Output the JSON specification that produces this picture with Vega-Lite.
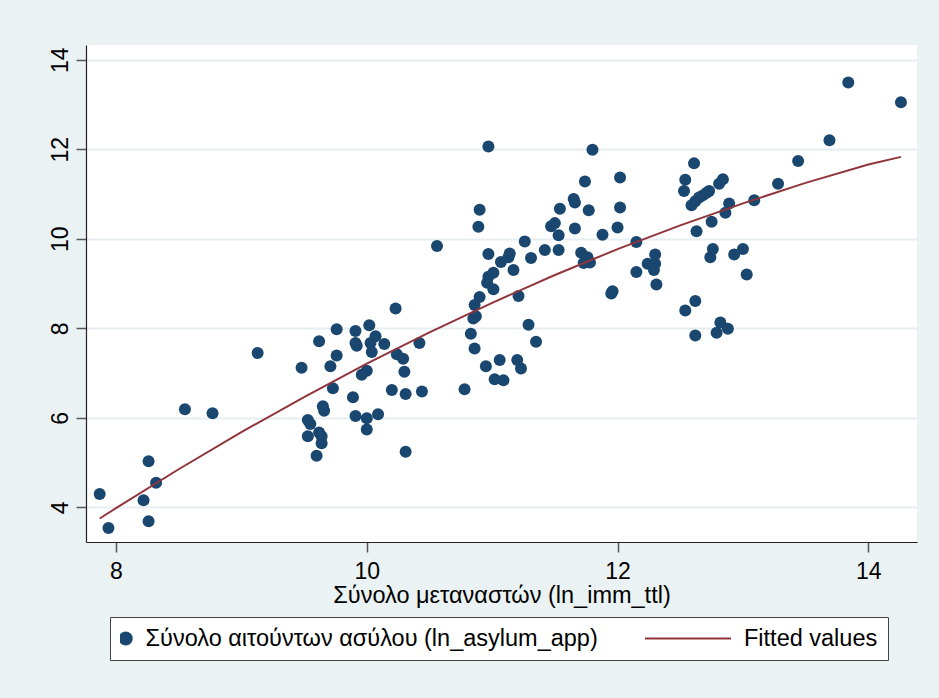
{
  "$schema": "https://vega.github.io/schema/vega-lite/v6.json",
  "width": 831,
  "height": 497,
  "autosize": {"type": "none"},
  "padding": {"left": 86, "top": 45, "right": 22, "bottom": 156},
  "background": "#eaf2f3",
  "config": {
    "view": {"stroke": null, "fill": "white"},
    "font": "Liberation Sans",
    "legend": {
      "orient": "none",
      "legendX": 24,
      "legendY": 572,
      "direction": "horizontal",
      "fillColor": "white",
      "strokeColor": "#444444",
      "padding": 10,
      "labelFontSize": 23.5,
      "labelFont": "Liberation Sans",
      "labelColor": "#000000",
      "labelLimit": 0,
      "labelOffset": 8,
      "symbolOffset": -6,
      "symbolStrokeWidth": 2,
      "columnPadding": 47,
      "clipHeight": 23
    }
  },
  "datasets": {
    "obs": [
      {"ln_imm_ttl": 7.87, "v": 4.30, "series": "Σύνολο αιτούντων ασύλου (ln_asylum_app)"},
      {"ln_imm_ttl": 7.94, "v": 3.54, "series": "Σύνολο αιτούντων ασύλου (ln_asylum_app)"},
      {"ln_imm_ttl": 8.26, "v": 5.03, "series": "Σύνολο αιτούντων ασύλου (ln_asylum_app)"},
      {"ln_imm_ttl": 8.32, "v": 4.55, "series": "Σύνολο αιτούντων ασύλου (ln_asylum_app)"},
      {"ln_imm_ttl": 8.22, "v": 4.16, "series": "Σύνολο αιτούντων ασύλου (ln_asylum_app)"},
      {"ln_imm_ttl": 8.26, "v": 3.69, "series": "Σύνολο αιτούντων ασύλου (ln_asylum_app)"},
      {"ln_imm_ttl": 8.55, "v": 6.19, "series": "Σύνολο αιτούντων ασύλου (ln_asylum_app)"},
      {"ln_imm_ttl": 8.77, "v": 6.10, "series": "Σύνολο αιτούντων ασύλου (ln_asylum_app)"},
      {"ln_imm_ttl": 9.13, "v": 7.45, "series": "Σύνολο αιτούντων ασύλου (ln_asylum_app)"},
      {"ln_imm_ttl": 9.48, "v": 7.12, "series": "Σύνολο αιτούντων ασύλου (ln_asylum_app)"},
      {"ln_imm_ttl": 9.62, "v": 7.71, "series": "Σύνολο αιτούντων ασύλου (ln_asylum_app)"},
      {"ln_imm_ttl": 9.76, "v": 7.98, "series": "Σύνολο αιτούντων ασύλου (ln_asylum_app)"},
      {"ln_imm_ttl": 9.91, "v": 7.94, "series": "Σύνολο αιτούντων ασύλου (ln_asylum_app)"},
      {"ln_imm_ttl": 9.91, "v": 7.67, "series": "Σύνολο αιτούντων ασύλου (ln_asylum_app)"},
      {"ln_imm_ttl": 9.92, "v": 7.61, "series": "Σύνολο αιτούντων ασύλου (ln_asylum_app)"},
      {"ln_imm_ttl": 9.76, "v": 7.39, "series": "Σύνολο αιτούντων ασύλου (ln_asylum_app)"},
      {"ln_imm_ttl": 9.71, "v": 7.15, "series": "Σύνολο αιτούντων ασύλου (ln_asylum_app)"},
      {"ln_imm_ttl": 9.73, "v": 6.66, "series": "Σύνολο αιτούντων ασύλου (ln_asylum_app)"},
      {"ln_imm_ttl": 9.89, "v": 6.46, "series": "Σύνολο αιτούντων ασύλου (ln_asylum_app)"},
      {"ln_imm_ttl": 9.91, "v": 6.04, "series": "Σύνολο αιτούντων ασύλου (ln_asylum_app)"},
      {"ln_imm_ttl": 9.65, "v": 6.26, "series": "Σύνολο αιτούντων ασύλου (ln_asylum_app)"},
      {"ln_imm_ttl": 9.66, "v": 6.16, "series": "Σύνολο αιτούντων ασύλου (ln_asylum_app)"},
      {"ln_imm_ttl": 9.53, "v": 5.95, "series": "Σύνολο αιτούντων ασύλου (ln_asylum_app)"},
      {"ln_imm_ttl": 9.55, "v": 5.86, "series": "Σύνολο αιτούντων ασύλου (ln_asylum_app)"},
      {"ln_imm_ttl": 9.53, "v": 5.59, "series": "Σύνολο αιτούντων ασύλου (ln_asylum_app)"},
      {"ln_imm_ttl": 9.62, "v": 5.67, "series": "Σύνολο αιτούντων ασύλου (ln_asylum_app)"},
      {"ln_imm_ttl": 9.64, "v": 5.59, "series": "Σύνολο αιτούντων ασύλου (ln_asylum_app)"},
      {"ln_imm_ttl": 9.64, "v": 5.43, "series": "Σύνολο αιτούντων ασύλου (ln_asylum_app)"},
      {"ln_imm_ttl": 9.60, "v": 5.15, "series": "Σύνολο αιτούντων ασύλου (ln_asylum_app)"},
      {"ln_imm_ttl": 10.02, "v": 8.07, "series": "Σύνολο αιτούντων ασύλου (ln_asylum_app)"},
      {"ln_imm_ttl": 10.07, "v": 7.82, "series": "Σύνολο αιτούντων ασύλου (ln_asylum_app)"},
      {"ln_imm_ttl": 10.03, "v": 7.67, "series": "Σύνολο αιτούντων ασύλου (ln_asylum_app)"},
      {"ln_imm_ttl": 10.04, "v": 7.47, "series": "Σύνολο αιτούντων ασύλου (ln_asylum_app)"},
      {"ln_imm_ttl": 10.14, "v": 7.65, "series": "Σύνολο αιτούντων ασύλου (ln_asylum_app)"},
      {"ln_imm_ttl": 10.23, "v": 8.44, "series": "Σύνολο αιτούντων ασύλου (ln_asylum_app)"},
      {"ln_imm_ttl": 10.24, "v": 7.42, "series": "Σύνολο αιτούντων ασύλου (ln_asylum_app)"},
      {"ln_imm_ttl": 10.29, "v": 7.32, "series": "Σύνολο αιτούντων ασύλου (ln_asylum_app)"},
      {"ln_imm_ttl": 10.42, "v": 7.67, "series": "Σύνολο αιτούντων ασύλου (ln_asylum_app)"},
      {"ln_imm_ttl": 10.30, "v": 7.03, "series": "Σύνολο αιτούντων ασύλου (ln_asylum_app)"},
      {"ln_imm_ttl": 10.00, "v": 7.05, "series": "Σύνολο αιτούντων ασύλου (ln_asylum_app)"},
      {"ln_imm_ttl": 9.96, "v": 6.96, "series": "Σύνολο αιτούντων ασύλου (ln_asylum_app)"},
      {"ln_imm_ttl": 10.20, "v": 6.62, "series": "Σύνολο αιτούντων ασύλου (ln_asylum_app)"},
      {"ln_imm_ttl": 10.31, "v": 6.53, "series": "Σύνολο αιτούντων ασύλου (ln_asylum_app)"},
      {"ln_imm_ttl": 10.44, "v": 6.59, "series": "Σύνολο αιτούντων ασύλου (ln_asylum_app)"},
      {"ln_imm_ttl": 10.00, "v": 5.99, "series": "Σύνολο αιτούντων ασύλου (ln_asylum_app)"},
      {"ln_imm_ttl": 10.09, "v": 6.08, "series": "Σύνολο αιτούντων ασύλου (ln_asylum_app)"},
      {"ln_imm_ttl": 10.00, "v": 5.74, "series": "Σύνολο αιτούντων ασύλου (ln_asylum_app)"},
      {"ln_imm_ttl": 10.31, "v": 5.24, "series": "Σύνολο αιτούντων ασύλου (ln_asylum_app)"},
      {"ln_imm_ttl": 10.78, "v": 6.64, "series": "Σύνολο αιτούντων ασύλου (ln_asylum_app)"},
      {"ln_imm_ttl": 10.83, "v": 7.88, "series": "Σύνολο αιτούντων ασύλου (ln_asylum_app)"},
      {"ln_imm_ttl": 10.86, "v": 7.55, "series": "Σύνολο αιτούντων ασύλου (ln_asylum_app)"},
      {"ln_imm_ttl": 10.85, "v": 8.22, "series": "Σύνολο αιτούντων ασύλου (ln_asylum_app)"},
      {"ln_imm_ttl": 10.87, "v": 8.27, "series": "Σύνολο αιτούντων ασύλου (ln_asylum_app)"},
      {"ln_imm_ttl": 10.86, "v": 8.52, "series": "Σύνολο αιτούντων ασύλου (ln_asylum_app)"},
      {"ln_imm_ttl": 10.90, "v": 8.70, "series": "Σύνολο αιτούντων ασύλου (ln_asylum_app)"},
      {"ln_imm_ttl": 10.95, "v": 7.15, "series": "Σύνολο αιτούντων ασύλου (ln_asylum_app)"},
      {"ln_imm_ttl": 11.02, "v": 6.86, "series": "Σύνολο αιτούντων ασύλου (ln_asylum_app)"},
      {"ln_imm_ttl": 10.96, "v": 9.02, "series": "Σύνολο αιτούντων ασύλου (ln_asylum_app)"},
      {"ln_imm_ttl": 11.01, "v": 8.87, "series": "Σύνολο αιτούντων ασύλου (ln_asylum_app)"},
      {"ln_imm_ttl": 10.97, "v": 12.06, "series": "Σύνολο αιτούντων ασύλου (ln_asylum_app)"},
      {"ln_imm_ttl": 11.80, "v": 11.99, "series": "Σύνολο αιτούντων ασύλου (ln_asylum_app)"},
      {"ln_imm_ttl": 10.56, "v": 9.84, "series": "Σύνολο αιτούντων ασύλου (ln_asylum_app)"},
      {"ln_imm_ttl": 10.90, "v": 10.65, "series": "Σύνολο αιτούντων ασύλου (ln_asylum_app)"},
      {"ln_imm_ttl": 10.89, "v": 10.27, "series": "Σύνολο αιτούντων ασύλου (ln_asylum_app)"},
      {"ln_imm_ttl": 10.97, "v": 9.66, "series": "Σύνολο αιτούντων ασύλου (ln_asylum_app)"},
      {"ln_imm_ttl": 11.07, "v": 9.48, "series": "Σύνολο αιτούντων ασύλου (ln_asylum_app)"},
      {"ln_imm_ttl": 11.13, "v": 9.59, "series": "Σύνολο αιτούντων ασύλου (ln_asylum_app)"},
      {"ln_imm_ttl": 11.14, "v": 9.67, "series": "Σύνολο αιτούντων ασύλου (ln_asylum_app)"},
      {"ln_imm_ttl": 11.17, "v": 9.30, "series": "Σύνολο αιτούντων ασύλου (ln_asylum_app)"},
      {"ln_imm_ttl": 11.26, "v": 9.94, "series": "Σύνολο αιτούντων ασύλου (ln_asylum_app)"},
      {"ln_imm_ttl": 11.31, "v": 9.57, "series": "Σύνολο αιτούντων ασύλου (ln_asylum_app)"},
      {"ln_imm_ttl": 11.42, "v": 9.75, "series": "Σύνολο αιτούντων ασύλου (ln_asylum_app)"},
      {"ln_imm_ttl": 11.53, "v": 9.75, "series": "Σύνολο αιτούντων ασύλου (ln_asylum_app)"},
      {"ln_imm_ttl": 11.53, "v": 10.08, "series": "Σύνολο αιτούντων ασύλου (ln_asylum_app)"},
      {"ln_imm_ttl": 11.47, "v": 10.28, "series": "Σύνολο αιτούντων ασύλου (ln_asylum_app)"},
      {"ln_imm_ttl": 11.50, "v": 10.35, "series": "Σύνολο αιτούντων ασύλου (ln_asylum_app)"},
      {"ln_imm_ttl": 11.54, "v": 10.67, "series": "Σύνολο αιτούντων ασύλου (ln_asylum_app)"},
      {"ln_imm_ttl": 11.65, "v": 10.89, "series": "Σύνολο αιτούντων ασύλου (ln_asylum_app)"},
      {"ln_imm_ttl": 11.66, "v": 10.81, "series": "Σύνολο αιτούντων ασύλου (ln_asylum_app)"},
      {"ln_imm_ttl": 11.74, "v": 11.28, "series": "Σύνολο αιτούντων ασύλου (ln_asylum_app)"},
      {"ln_imm_ttl": 11.77, "v": 10.64, "series": "Σύνολο αιτούντων ασύλου (ln_asylum_app)"},
      {"ln_imm_ttl": 11.66, "v": 10.23, "series": "Σύνολο αιτούντων ασύλου (ln_asylum_app)"},
      {"ln_imm_ttl": 11.88, "v": 10.09, "series": "Σύνολο αιτούντων ασύλου (ln_asylum_app)"},
      {"ln_imm_ttl": 12.00, "v": 10.25, "series": "Σύνολο αιτούντων ασύλου (ln_asylum_app)"},
      {"ln_imm_ttl": 12.02, "v": 11.37, "series": "Σύνολο αιτούντων ασύλου (ln_asylum_app)"},
      {"ln_imm_ttl": 12.02, "v": 10.70, "series": "Σύνολο αιτούντων ασύλου (ln_asylum_app)"},
      {"ln_imm_ttl": 12.15, "v": 9.93, "series": "Σύνολο αιτούντων ασύλου (ln_asylum_app)"},
      {"ln_imm_ttl": 11.71, "v": 9.69, "series": "Σύνολο αιτούντων ασύλου (ln_asylum_app)"},
      {"ln_imm_ttl": 11.76, "v": 9.59, "series": "Σύνολο αιτούντων ασύλου (ln_asylum_app)"},
      {"ln_imm_ttl": 11.78, "v": 9.47, "series": "Σύνολο αιτούντων ασύλου (ln_asylum_app)"},
      {"ln_imm_ttl": 11.73, "v": 9.46, "series": "Σύνολο αιτούντων ασύλου (ln_asylum_app)"},
      {"ln_imm_ttl": 12.15, "v": 9.26, "series": "Σύνολο αιτούντων ασύλου (ln_asylum_app)"},
      {"ln_imm_ttl": 12.24, "v": 9.44, "series": "Σύνολο αιτούντων ασύλου (ln_asylum_app)"},
      {"ln_imm_ttl": 12.30, "v": 9.44, "series": "Σύνολο αιτούντων ασύλου (ln_asylum_app)"},
      {"ln_imm_ttl": 12.29, "v": 9.30, "series": "Σύνολο αιτούντων ασύλου (ln_asylum_app)"},
      {"ln_imm_ttl": 12.30, "v": 9.65, "series": "Σύνολο αιτούντων ασύλου (ln_asylum_app)"},
      {"ln_imm_ttl": 12.31, "v": 8.98, "series": "Σύνολο αιτούντων ασύλου (ln_asylum_app)"},
      {"ln_imm_ttl": 11.95, "v": 8.78, "series": "Σύνολο αιτούντων ασύλου (ln_asylum_app)"},
      {"ln_imm_ttl": 11.96, "v": 8.83, "series": "Σύνολο αιτούντων ασύλου (ln_asylum_app)"},
      {"ln_imm_ttl": 10.97, "v": 9.15, "series": "Σύνολο αιτούντων ασύλου (ln_asylum_app)"},
      {"ln_imm_ttl": 11.01, "v": 9.24, "series": "Σύνολο αιτούντων ασύλου (ln_asylum_app)"},
      {"ln_imm_ttl": 11.21, "v": 8.72, "series": "Σύνολο αιτούντων ασύλου (ln_asylum_app)"},
      {"ln_imm_ttl": 11.29, "v": 8.08, "series": "Σύνολο αιτούντων ασύλου (ln_asylum_app)"},
      {"ln_imm_ttl": 11.35, "v": 7.70, "series": "Σύνολο αιτούντων ασύλου (ln_asylum_app)"},
      {"ln_imm_ttl": 11.06, "v": 7.29, "series": "Σύνολο αιτούντων ασύλου (ln_asylum_app)"},
      {"ln_imm_ttl": 11.09, "v": 6.84, "series": "Σύνολο αιτούντων ασύλου (ln_asylum_app)"},
      {"ln_imm_ttl": 11.20, "v": 7.29, "series": "Σύνολο αιτούντων ασύλου (ln_asylum_app)"},
      {"ln_imm_ttl": 11.23, "v": 7.10, "series": "Σύνολο αιτούντων ασύλου (ln_asylum_app)"},
      {"ln_imm_ttl": 13.84, "v": 13.49, "series": "Σύνολο αιτούντων ασύλου (ln_asylum_app)"},
      {"ln_imm_ttl": 14.26, "v": 13.05, "series": "Σύνολο αιτούντων ασύλου (ln_asylum_app)"},
      {"ln_imm_ttl": 13.69, "v": 12.20, "series": "Σύνολο αιτούντων ασύλου (ln_asylum_app)"},
      {"ln_imm_ttl": 13.44, "v": 11.74, "series": "Σύνολο αιτούντων ασύλου (ln_asylum_app)"},
      {"ln_imm_ttl": 13.28, "v": 11.23, "series": "Σύνολο αιτούντων ασύλου (ln_asylum_app)"},
      {"ln_imm_ttl": 13.09, "v": 10.86, "series": "Σύνολο αιτούντων ασύλου (ln_asylum_app)"},
      {"ln_imm_ttl": 12.61, "v": 11.69, "series": "Σύνολο αιτούντων ασύλου (ln_asylum_app)"},
      {"ln_imm_ttl": 12.54, "v": 11.32, "series": "Σύνολο αιτούντων ασύλου (ln_asylum_app)"},
      {"ln_imm_ttl": 12.53, "v": 11.07, "series": "Σύνολο αιτούντων ασύλου (ln_asylum_app)"},
      {"ln_imm_ttl": 12.84, "v": 11.33, "series": "Σύνολο αιτούντων ασύλου (ln_asylum_app)"},
      {"ln_imm_ttl": 12.81, "v": 11.23, "series": "Σύνολο αιτούντων ασύλου (ln_asylum_app)"},
      {"ln_imm_ttl": 12.73, "v": 11.07, "series": "Σύνολο αιτούντων ασύλου (ln_asylum_app)"},
      {"ln_imm_ttl": 12.71, "v": 11.03, "series": "Σύνολο αιτούντων ασύλου (ln_asylum_app)"},
      {"ln_imm_ttl": 12.68, "v": 10.97, "series": "Σύνολο αιτούντων ασύλου (ln_asylum_app)"},
      {"ln_imm_ttl": 12.65, "v": 10.92, "series": "Σύνολο αιτούντων ασύλου (ln_asylum_app)"},
      {"ln_imm_ttl": 12.62, "v": 10.84, "series": "Σύνολο αιτούντων ασύλου (ln_asylum_app)"},
      {"ln_imm_ttl": 12.59, "v": 10.75, "series": "Σύνολο αιτούντων ασύλου (ln_asylum_app)"},
      {"ln_imm_ttl": 12.89, "v": 10.79, "series": "Σύνολο αιτούντων ασύλου (ln_asylum_app)"},
      {"ln_imm_ttl": 12.86, "v": 10.58, "series": "Σύνολο αιτούντων ασύλου (ln_asylum_app)"},
      {"ln_imm_ttl": 12.75, "v": 10.38, "series": "Σύνολο αιτούντων ασύλου (ln_asylum_app)"},
      {"ln_imm_ttl": 12.63, "v": 10.17, "series": "Σύνολο αιτούντων ασύλου (ln_asylum_app)"},
      {"ln_imm_ttl": 12.76, "v": 9.77, "series": "Σύνολο αιτούντων ασύλου (ln_asylum_app)"},
      {"ln_imm_ttl": 12.74, "v": 9.59, "series": "Σύνολο αιτούντων ασύλου (ln_asylum_app)"},
      {"ln_imm_ttl": 13.00, "v": 9.77, "series": "Σύνολο αιτούντων ασύλου (ln_asylum_app)"},
      {"ln_imm_ttl": 12.93, "v": 9.65, "series": "Σύνολο αιτούντων ασύλου (ln_asylum_app)"},
      {"ln_imm_ttl": 13.03, "v": 9.20, "series": "Σύνολο αιτούντων ασύλου (ln_asylum_app)"},
      {"ln_imm_ttl": 12.62, "v": 8.61, "series": "Σύνολο αιτούντων ασύλου (ln_asylum_app)"},
      {"ln_imm_ttl": 12.54, "v": 8.40, "series": "Σύνολο αιτούντων ασύλου (ln_asylum_app)"},
      {"ln_imm_ttl": 12.82, "v": 8.13, "series": "Σύνολο αιτούντων ασύλου (ln_asylum_app)"},
      {"ln_imm_ttl": 12.79, "v": 7.90, "series": "Σύνολο αιτούντων ασύλου (ln_asylum_app)"},
      {"ln_imm_ttl": 12.88, "v": 7.99, "series": "Σύνολο αιτούντων ασύλου (ln_asylum_app)"},
      {"ln_imm_ttl": 12.62, "v": 7.84, "series": "Σύνολο αιτούντων ασύλου (ln_asylum_app)"}
    ],
    "fit": [
      {"ln_imm_ttl": 7.87, "v": 3.75, "series": "Fitted values"},
      {"ln_imm_ttl": 8.0, "v": 3.98, "series": "Fitted values"},
      {"ln_imm_ttl": 8.5, "v": 4.85, "series": "Fitted values"},
      {"ln_imm_ttl": 9.0, "v": 5.68, "series": "Fitted values"},
      {"ln_imm_ttl": 9.5, "v": 6.46, "series": "Fitted values"},
      {"ln_imm_ttl": 10.0, "v": 7.21, "series": "Fitted values"},
      {"ln_imm_ttl": 10.5, "v": 7.91, "series": "Fitted values"},
      {"ln_imm_ttl": 11.0, "v": 8.57, "series": "Fitted values"},
      {"ln_imm_ttl": 11.5, "v": 9.19, "series": "Fitted values"},
      {"ln_imm_ttl": 12.0, "v": 9.77, "series": "Fitted values"},
      {"ln_imm_ttl": 12.5, "v": 10.30, "series": "Fitted values"},
      {"ln_imm_ttl": 13.0, "v": 10.79, "series": "Fitted values"},
      {"ln_imm_ttl": 13.5, "v": 11.25, "series": "Fitted values"},
      {"ln_imm_ttl": 14.0, "v": 11.66, "series": "Fitted values"},
      {"ln_imm_ttl": 14.26, "v": 11.83, "series": "Fitted values"}
    ]
  },
  "encoding": {
    "x": {
      "field": "ln_imm_ttl",
      "type": "quantitative",
      "scale": {"domain": [7.761, 14.388], "nice": false, "zero": false},
      "axis": {
        "values": [8, 10, 12, 14],
        "format": "d",
        "title": "Σύνολο μεταναστών (ln_imm_ttl)",
        "titleFontSize": 23.5,
        "titleFontWeight": "normal",
        "titleColor": "#000000",
        "titlePadding": 0,
        "labelFontSize": 23,
        "labelColor": "#000000",
        "labelPadding": 8,
        "labelFlush": false,
        "labelOverlap": false,
        "tickSize": 10,
        "tickColor": "#555555",
        "tickWidth": 1.5,
        "domainColor": "#222222",
        "domainWidth": 1.2,
        "grid": false
      }
    },
    "y": {
      "field": "v",
      "type": "quantitative",
      "scale": {"domain": [3.225, 14.33], "nice": false, "zero": false},
      "axis": {
        "values": [4, 6, 8, 10, 12, 14],
        "format": "d",
        "title": null,
        "labelAngle": -90,
        "labelAlign": "center",
        "labelBaseline": "alphabetic",
        "labelFontSize": 23,
        "labelColor": "#000000",
        "labelPadding": 9,
        "labelFlush": false,
        "labelOverlap": false,
        "tickSize": 10,
        "tickColor": "#555555",
        "tickWidth": 1.5,
        "domainColor": "#222222",
        "domainWidth": 1.2,
        "grid": true,
        "gridColor": "#e6eef1",
        "gridWidth": 1.8
      }
    }
  },
  "layer": [
    {
      "data": {"name": "obs"},
      "mark": {"type": "point", "filled": true, "opacity": 1, "strokeWidth": 0},
      "encoding": {
        "fill": {
          "field": "series",
          "type": "nominal",
          "scale": {
            "domain": ["Σύνολο αιτούντων ασύλου (ln_asylum_app)", "Fitted values"],
            "range": ["#1a476f", "#90353b"]
          },
          "legend": {"title": null}
        },
        "stroke": {
          "field": "series",
          "type": "nominal",
          "scale": {
            "domain": ["Σύνολο αιτούντων ασύλου (ln_asylum_app)", "Fitted values"],
            "range": ["#1a476f", "#90353b"]
          },
          "legend": {"title": null}
        },
        "shape": {
          "field": "series",
          "type": "nominal",
          "scale": {
            "domain": ["Σύνολο αιτούντων ασύλου (ln_asylum_app)", "Fitted values"],
            "range": ["circle", "M-0.916,0L0.916,0"]
          },
          "legend": {"title": null}
        },
        "size": {
          "field": "series",
          "type": "nominal",
          "scale": {
            "type": "ordinal",
            "domain": ["Σύνολο αιτούντων ασύλου (ln_asylum_app)", "Fitted values"],
            "range": [144, 9025]
          },
          "legend": {"title": null}
        }
      }
    },
    {
      "data": {"name": "fit"},
      "mark": {"type": "line", "strokeWidth": 2},
      "encoding": {
        "stroke": {"field": "series", "type": "nominal", "legend": {"title": null}}
      }
    }
  ]
}
